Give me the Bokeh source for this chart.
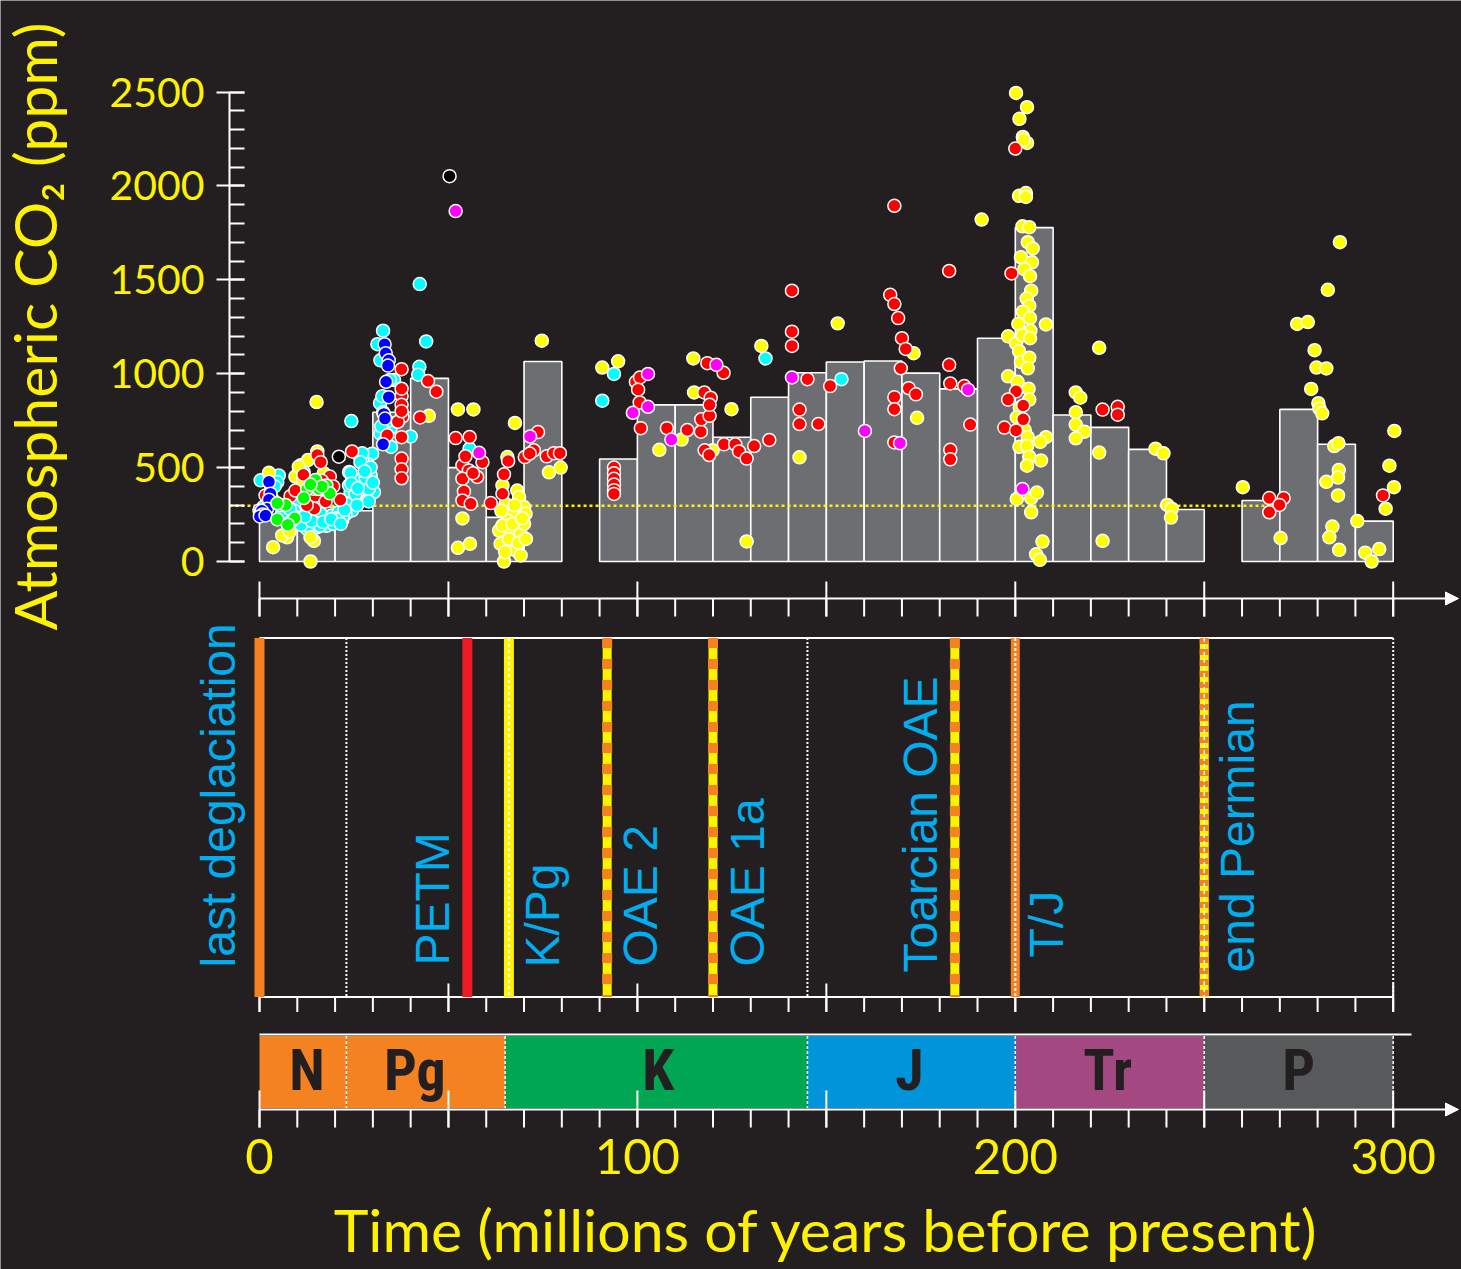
import numpy as np
from bokeh.plotting import figure
from bokeh.models import (Range1d, LinearAxis, SingleIntervalTicker, FixedTicker,
                          Arrow, NormalHead)
from bokeh.core.properties import value
from bokeh.embed import file_html
from bokeh.resources import INLINE

# ------------------------------------------------------------------ data
# 10-Myr bin means of atmospheric CO2 (ppm); bins without data are omitted
bin_left = [0, 10, 20, 30, 40, 50, 60, 70, 90, 100, 110, 120, 130, 140, 150,
            160, 170, 180, 190, 200, 210, 220, 230, 240, 260, 270, 280, 290]
bin_co2 = [230, 290, 270, 795, 975, 500, 235, 1065, 546, 834, 834, 662, 875,
           1005, 1062, 1068, 1003, 919, 1189, 1778, 780, 714, 597, 277, 325,
           810, 624, 215]
BIN_WIDTH = 10
preindustrial_co2 = 297
preindustrial_end = 270

# proxy estimates as (age Myr, CO2 ppm), grouped by marker colour
yellow_pts = [
    (2.5, 472), (3.6, 76), (7.3, 129), (6.0, 139), (13.5, 0), (14.4, 110),
    (13.5, 129), (9.5, 452), (12.8, 540), (15.3, 586), (15.1, 849), (10.4, 505),
    (11.5, 430), (17.0, 470), (8.0, 160),
    (44.8, 776), (74.7, 1176), (52.5, 810), (56.6, 810), (67.6, 738),
    (76.6, 475), (79.7, 500), (53.7, 229), (52.5, 73), (55.7, 94),
    (65.6, 556), (64.3, 405), (68.2, 378), (68.7, 343), (70.0, 290),
    (65.1, 307), (66.9, 254), (70.4, 254), (63.4, 165), (66.6, 165),
    (69.1, 148), (63.8, 94), (67.8, 59), (64.7, 0), (69.1, 32), (65.6, 219),
    (70.0, 201), (64.3, 192), (67.5, 300), (66.0, 120), (68.5, 100),
    (65.0, 50), (70.5, 120), (67.0, 200), (64.0, 270), (69.5, 230),
    (90.7, 1033), (94.9, 1066), (114.8, 1081), (132.8, 1148), (153.0, 1268),
    (191.1, 1821), (105.8, 595), (111.7, 649), (115.0, 900), (124.9, 811),
    (128.9, 107), (142.9, 555), (174.0, 765), (173.1, 1109), (119.9, 592),
    (200.2, 2495), (203.1, 2419), (201.1, 2357), (202.0, 2261), (203.1, 2229),
    (202.2, 2244), (201.0, 1947), (202.8, 1962), (202.8, 1941), (201.9, 1785),
    (203.7, 1780), (203.3, 1700), (204.6, 1667), (201.5, 1620), (204.4, 1593),
    (202.4, 1557), (203.9, 1519), (204.2, 1442), (203.0, 1400), (203.7, 1361),
    (202.0, 1330), (203.9, 1296), (208.1, 1262), (200.8, 1265), (204.0, 1230),
    (198.1, 1199), (200.2, 1161), (201.9, 1205), (203.9, 1189), (201.0, 1120),
    (201.5, 1062), (203.7, 1085), (203.3, 1029), (198.1, 986), (200.6, 957),
    (203.5, 920), (203.7, 862), (201.2, 819), (200.4, 767), (202.5, 700),
    (203.3, 662), (208.1, 662), (206.6, 637), (201.1, 611), (203.1, 615),
    (203.7, 558), (206.8, 538), (203.1, 510), (200.4, 333), (204.2, 338),
    (205.7, 367), (204.2, 262), (207.2, 106), (205.5, 38), (206.5, 9),
    (216.0, 900), (217.2, 872), (216.0, 795), (216.0, 729), (218.3, 691),
    (216.0, 656), (222.2, 1138), (222.2, 580), (223.1, 110), (237.1, 601),
    (239.2, 576), (240.2, 301), (241.4, 281), (241.2, 234), (260.2, 396),
    (270.2, 125), (285.9, 1700), (282.7, 1447), (274.6, 1265), (277.4, 1275),
    (279.2, 1125), (279.7, 1033), (282.3, 1028), (278.3, 919), (280.2, 843),
    (280.5, 814), (281.2, 789), (284.4, 615), (285.5, 630), (285.6, 487),
    (285.4, 447), (282.3, 424), (285.4, 352), (290.5, 215), (283.9, 186),
    (283.1, 129), (285.7, 62), (292.6, 47), (294.3, 0), (296.3, 66),
    (300.3, 695), (299.0, 510), (300.2, 396), (298.0, 281),
]
red_pts = [
    (1.6, 352), (8.2, 348), (11.6, 462), (15.3, 567), (16.2, 529), (18.6, 452),
    (14.8, 350), (14.5, 281), (21.4, 329), (24.5, 586), (9.5, 378), (14.4, 387),
    (16.5, 430), (19.5, 400), (12.5, 300), (17.5, 320), (3.5, 330),
    (37.6, 1024), (37.6, 881), (37.6, 834), (37.8, 771), (36.6, 744),
    (37.6, 662), (33.8, 672), (37.6, 548), (37.6, 491), (37.6, 443),
    (44.6, 961), (46.8, 904), (42.5, 767), (37.6, 920), (37.6, 800),
    (51.9, 657), (55.6, 663), (53.7, 512), (55.4, 485), (57.6, 450),
    (53.7, 441), (54.1, 373), (53.7, 325), (55.9, 307), (59.0, 529),
    (61.2, 311), (64.3, 361), (64.7, 464), (65.8, 535), (73.7, 689),
    (70.2, 556), (72.6, 592), (76.0, 560), (77.9, 577), (79.5, 577),
    (54.5, 560), (56.5, 470), (71.5, 575),
    (93.8, 500), (93.8, 470), (93.8, 440), (93.8, 410), (93.8, 380),
    (93.8, 360), (99.6, 957), (100.7, 980), (100.2, 915), (100.6, 847),
    (100.9, 710), (107.8, 710), (113.2, 700), (116.8, 691), (116.9, 757),
    (117.7, 900), (119.1, 776), (119.4, 872), (119.1, 834), (118.5, 1056),
    (122.8, 1005), (117.8, 592), (119.0, 567), (122.9, 624), (125.9, 624),
    (126.9, 586), (128.9, 548), (130.9, 615), (134.9, 647), (140.9, 1442),
    (140.9, 1224), (140.9, 1148), (142.9, 809), (142.9, 732), (145.0, 971),
    (147.9, 732), (151.0, 934), (168.0, 1894), (166.9, 1420), (168.0, 1371),
    (169.0, 1296), (170.0, 1189), (171.0, 1132), (169.7, 1029), (171.8, 923),
    (173.7, 890), (168.0, 875), (168.0, 811), (168.0, 634), (182.5, 1547),
    (182.5, 1047), (182.8, 948), (186.5, 934), (182.8, 595), (182.8, 544),
    (188.1, 729),
    (200.0, 2199), (199.0, 1534), (200.2, 906), (198.1, 862), (202.1, 831),
    (202.1, 757), (197.1, 713), (200.2, 698),
    (223.1, 809), (227.1, 824), (227.1, 782), (267.2, 338), (271.0, 338),
    (269.9, 301), (267.2, 262), (297.3, 352),
]
cyan_pts = [
    (0.3, 432), (5.1, 458), (4.7, 423), (10.9, 512), (11.7, 476), (23.7, 476),
    (24.5, 432), (24.1, 370), (26.3, 565), (29.8, 574), (28.5, 521),
    (27.2, 538), (29.0, 378), (30.3, 370), (28.5, 325), (29.4, 458),
    (26.7, 432), (25.4, 325), (24.5, 272), (22.8, 254), (21.9, 219),
    (20.1, 210), (18.4, 201), (17.0, 228), (15.3, 183), (14.0, 201),
    (12.2, 210), (10.9, 219), (14.4, 236), (16.2, 254), (19.2, 245),
    (21.0, 263), (23.2, 307), (23.7, 405), (10.4, 325), (9.1, 272), (9.5, 236),
    (17.7, 190), (12.6, 174), (24.3, 748), (27.2, 576), (26.7, 529),
    (29.4, 501), (28.1, 443), (28.9, 386), (28.9, 320), (24.1, 472),
    (24.3, 415), (25.4, 358), (13.0, 190), (15.0, 205), (16.0, 190),
    (18.0, 215), (19.5, 200), (20.5, 230), (22.0, 240), (11.0, 195),
    (8.5, 215), (7.0, 250), (6.0, 260), (2.0, 310), (1.0, 290), (3.0, 380),
    (4.0, 400), (13.8, 215), (16.8, 210), (19.0, 225), (21.5, 200),
    (12.0, 240), (22.5, 275), (25.8, 300), (26.0, 390), (27.8, 480),
    (30.0, 420), (8.0, 280), (5.5, 300),
    (32.7, 1229), (31.2, 1157), (32.0, 1071), (35.6, 967), (31.9, 843),
    (32.7, 795), (32.0, 681), (34.7, 710), (40.0, 666), (42.3, 1037),
    (42.0, 995), (44.1, 1172), (42.4, 1477), (33.8, 748), (34.5, 967),
    (32.5, 880), (33.0, 640), (34.8, 610), (32.2, 720),
    (55.6, 601), (93.8, 999), (90.7, 856), (133.9, 1081), (154.0, 971),
]
blue_pts = [
    (2.5, 424), (2.9, 361), (2.5, 329), (2.0, 281), (0.0, 272), (0.2, 262),
    (0.4, 255), (0.6, 270), (0.8, 250), (0.1, 240), (1.6, 245),
    (33.1, 1157), (33.4, 1109), (34.2, 1071), (34.0, 1043), (33.5, 957),
    (34.2, 875), (32.9, 786), (33.2, 761), (32.7, 624),
]
green_pts = [
    (14.8, 434), (12.6, 386), (15.7, 386), (17.7, 405), (18.6, 363),
    (11.7, 338), (6.9, 301), (4.7, 310), (4.7, 224), (9.3, 230), (7.5, 196),
    (16.5, 400), (13.5, 410),
]
magenta_pts = [
    (51.9, 1866), (58.1, 579), (71.6, 666), (102.8, 999), (102.8, 824),
    (98.8, 792), (109.0, 649), (120.9, 1047), (140.9, 980), (160.2, 695),
    (169.5, 630), (187.5, 915), (201.9, 386),
]
black_pts = [(50.3, 2052), (21.0, 558)]

# geologic periods (Myr)
period_names = ["N", "Pg", "K", "J", "Tr", "P"]
period_start = [0, 23, 65, 145, 200, 250]
period_end = [23, 65, 145, 200, 250, 300]

# carbon-cycle events (Myr)
event_names = ["last deglaciation", "PETM", "K/Pg", "OAE 2", "OAE 1a",
               "Toarcian OAE", "T/J", "end Permian"]
event_ages = [0, 55, 66, 92, 120, 184, 200, 250]

time_ticks = [0, 100, 200, 300]

# ------------------------------------------------------------------ layout
# The frame fills the whole canvas; y is measured in canvas rows (downwards)
# and the CO2 panel has its own extra range.
W, H = 1461, 1269
X0_PX = 259.0
PX_PER_MYR = 1133.7 / 300
CO2_ZERO_ROW = 561.0
PX_PER_PPM = 469.5 / 2500
CO2_AXIS_PX = 229
# text drawn with an alphabetic anchor lands ~0.4 em past its anchor
BASELINE_FIX = 0.4

BG = "#231f20"
YEL = "#fff200"
LABEL_BLUE = "#00aeef"
ORANGE = "#f58220"
EV_RED = "#ed1c24"
BAR_GRAY = "#6d6e71"
PERIOD_COLORS = [ORANGE, ORANGE, "#00a651", "#0095da", "#a34880", "#58595b"]
SANS = "Liberation Sans"
NARROW = "Liberation Sans Narrow, Roboto Condensed, DejaVu Sans Condensed, Liberation Sans, sans-serif"
TITLE_FONT = "Lato"


def row_to_co2(row):
    return (CO2_ZERO_ROW - row) / PX_PER_PPM


def px_to_myr(px):
    return px / PX_PER_MYR


def col_to_myr(col):
    return px_to_myr(col - X0_PX)


p = figure(frame_width=W, frame_height=H, min_border=0,
           x_range=Range1d(col_to_myr(0), col_to_myr(W)),
           y_range=Range1d(H, 0),
           x_axis_location=None, y_axis_location=None,
           output_backend="svg", toolbar_location=None,
           background_fill_color=BG, border_fill_color=BG,
           outline_line_color=None)
p.grid.visible = False
p.extra_y_ranges = {"co2": Range1d(row_to_co2(H), row_to_co2(0))}

# ---------------------------------------------------------- CO2 panel
bin_right = [b + BIN_WIDTH for b in bin_left]
p.quad(left=bin_left, right=bin_right, bottom=0, top=bin_co2,
       y_range_name="co2", fill_color=BAR_GRAY, line_color="white",
       line_width=1.6)

p.line(x=[col_to_myr(CO2_AXIS_PX), preindustrial_end],
       y=[preindustrial_co2] * 2, y_range_name="co2", line_color=YEL,
       line_width=2.5, line_dash="3 3")

series = [(cyan_pts, "#00ffff"), (yellow_pts, "#ffff00"), (red_pts, "#ff0000"),
          (blue_pts, "#0000ff"), (green_pts, "#00ff00"),
          (magenta_pts, "#ff00ff"), (black_pts, "#000000")]
for pts, col in series:
    ages, co2 = zip(*pts)
    p.scatter(x=list(ages), y=list(co2), y_range_name="co2", size=13,
              fill_color=col, line_color="white", line_width=1.5)

# ---------------------------------------------------------- time rulers
minor_t = list(np.arange(0, 301, 10))
major_t = list(np.arange(0, 301, 50))
ARROW_TIP = col_to_myr(1458)


def time_ruler(row, down, up, arrow=True, line_end=300):
    if arrow:
        p.add_layout(Arrow(end=NormalHead(size=13, fill_color="white",
                                          line_color="white", line_width=1),
                           x_start=0, y_start=row, x_end=ARROW_TIP, y_end=row,
                           line_color="white", line_width=2))
    else:
        p.segment(x0=[0], y0=[row], x1=[line_end], y1=[row],
                  line_color="white", line_width=2)
    p.segment(x0=minor_t, y0=row, x1=minor_t, y1=row + down,
              line_color="white", line_width=2)
    p.segment(x0=major_t, y0=row - up, x1=major_t, y1=row + down,
              line_color="white", line_width=2)


time_ruler(598, 18, 17)

# ---------------------------------------------------------- event panel
BOX_TOP, BOX_BOT = 637.5, 996.5
p.segment(x0=[0], y0=[BOX_TOP], x1=[300], y1=[BOX_TOP],
          line_color="white", line_width=2)
for t in [23, 145, 300]:
    p.segment(x0=[t], y0=[BOX_TOP], x1=[t], y1=[BOX_BOT],
              line_color="white", line_width=2, line_dash="2 2")
time_ruler(BOX_BOT, 15, 13.5, arrow=False)

ev = dict(zip(event_names, event_ages))
ys = dict(y0=BOX_TOP, y1=BOX_BOT)


def vline(t, color, width, dash="solid"):
    p.segment(x0=[t], x1=[t], line_color=color, line_width=width,
              line_dash=dash, **ys)


vline(ev["last deglaciation"], ORANGE, 10)
vline(ev["PETM"], EV_RED, 10)
vline(ev["K/Pg"], YEL, 10)
vline(ev["K/Pg"], "white", 2, "3 3")
for name in ["OAE 2", "OAE 1a", "Toarcian OAE"]:
    vline(ev[name], YEL, 9)
    vline(ev[name], ORANGE, 10, "10 11")
vline(ev["T/J"], ORANGE, 9)
vline(ev["T/J"], "white", 2, "3 2")
vline(ev["end Permian"], YEL, 9)
vline(ev["end Permian"], ORANGE, 9, "6 5")
vline(ev["end Permian"], "white", 1.5, "4 3")

# baseline offsets (px) of the rotated labels from their event lines
EV_FONT_PX = 48
label_dx = [-21.6, -15.5, 53, 53, 53.5, -14.7, 50, 52]
label_row = [967, 965, 967, 966, 966, 972, 957, 972]
label_x = [a + px_to_myr(d - BASELINE_FIX * EV_FONT_PX)
           for a, d in zip(event_ages, label_dx)]
p.text(x=label_x, y=label_row, text=event_names, angle=np.pi / 2,
       text_font=value(SANS), text_font_size=f"{EV_FONT_PX}px",
       text_color=LABEL_BLUE, text_align="left", text_baseline="alphabetic")

# ---------------------------------------------------------- period bar
PB_TOP, PB_BOT = 1035.5, 1107.5
p.quad(left=period_start, right=period_end, top=PB_TOP, bottom=PB_BOT,
       fill_color=PERIOD_COLORS, line_color=None)
p.segment(x0=[0], y0=[1034], x1=[col_to_myr(1411)], y1=[1034],
          line_color="white", line_width=2)
for t in period_start[1:] + [300]:
    p.segment(x0=[t], y0=[PB_TOP], x1=[t], y1=[PB_BOT],
              line_color="white", line_width=1.5, line_dash="3 2")
TIME_ROW = 1109
time_ruler(TIME_ROW, 18, 19)

PERIOD_FONT_PX = 58
name_nudge_px = [4, -11, 2, -2, -2, 0]
name_x = [(a + b) / 2 + px_to_myr(n)
          for a, b, n in zip(period_start, period_end, name_nudge_px)]
p.text(x=name_x, y=1092.5 - BASELINE_FIX * PERIOD_FONT_PX, text=period_names,
       text_font=value(NARROW), text_font_style="bold",
       text_font_size=f"{PERIOD_FONT_PX}px", text_color=BG,
       text_align="center", text_baseline="alphabetic")

# ---------------------------------------------------------- axes
yax = LinearAxis(y_range_name="co2", bounds=(0, 2500),
                 fixed_location=col_to_myr(CO2_AXIS_PX),
                 ticker=SingleIntervalTicker(interval=500, num_minor_ticks=5))
yax.axis_line_color = "white"
yax.axis_line_width = 2
yax.major_tick_line_color = "white"
yax.major_tick_line_width = 2
yax.minor_tick_line_color = "white"
yax.minor_tick_line_width = 2
yax.major_tick_in = 15
yax.major_tick_out = 13
yax.minor_tick_in = 15
yax.minor_tick_out = 0
yax.major_label_standoff = 12
yax.major_label_text_font = TITLE_FONT
yax.major_label_text_font_size = "41px"
yax.major_label_text_color = YEL
p.add_layout(yax, "left")

# time labels hang below the lowest ruler (its ticks are drawn above)
xax = LinearAxis(ticker=FixedTicker(ticks=time_ticks), bounds=(0, 300),
                 fixed_location=TIME_ROW)
xax.axis_line_color = None
xax.major_tick_line_color = None
xax.minor_tick_line_color = None
xax.major_tick_in = 0
xax.major_tick_out = 18
xax.major_label_standoff = 11
xax.major_label_text_font = TITLE_FONT
xax.major_label_text_font_size = "49px"
xax.major_label_text_color = YEL
p.add_layout(xax, "below")

# axis titles
TITLE_PX = 59
p.text(x=[col_to_myr(58 - BASELINE_FIX * TITLE_PX)], y=[326],
       text=["Atmospheric CO\u2082 (ppm)"], angle=np.pi / 2,
       text_align="center", text_baseline="alphabetic",
       text_font=value(TITLE_FONT), text_font_size=f"{TITLE_PX}px",
       text_color=YEL)
p.text(x=[150], y=[1253 - BASELINE_FIX * TITLE_PX],
       text=["Time (millions of years before present)"],
       text_align="center", text_baseline="alphabetic",
       text_font=value(TITLE_FONT), text_font_size=f"{TITLE_PX}px",
       text_color=YEL)

open("out.html", "w").write(file_html(p, INLINE))
